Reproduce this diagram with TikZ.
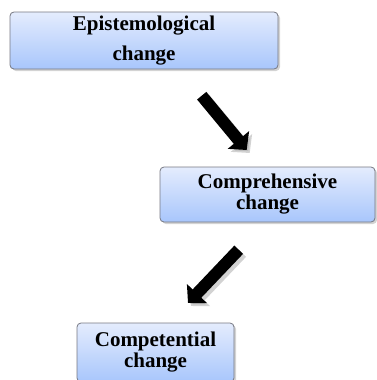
\documentclass[tikz,border=0pt]{standalone}
\usepackage{fontspec}
\setmainfont{Liberation Serif}
\usetikzlibrary{arrows.meta,shadows}
\definecolor{boxtop}{RGB}{228,236,253}
\definecolor{boxbot}{RGB}{168,198,252}
\definecolor{boxline}{RGB}{118,120,130}
\begin{document}
\begin{tikzpicture}[x=1pt, y=-1pt,
  box/.style={draw=boxline, line width=.8pt, rounded corners=4pt, top color=boxtop, bottom color=boxbot,
    drop shadow={shadow xshift=2pt, shadow yshift=-2pt, opacity=.35},
    inner sep=0pt, align=center, font=\fontsize{21}{21}\selectfont\bfseries},
  bigarrow/.style={line width=12pt, -{Triangle[length=13pt,width=27pt]}},
  arrowshade/.style={bigarrow, draw=black!35, opacity=.5}]
\useasboundingbox (0,0) rectangle (377,380);

\node[box, minimum width=268pt, minimum height=57pt] (epi) at (144,40.5) {Epistemological\\[9pt]change};
\node[box, minimum width=215pt, minimum height=55pt] (comp) at (267.5,194.5) {Comprehensive\\change};
\node[box, minimum width=157pt, minimum height=59pt] (compet) at (155.5,352.5) {Competential\\change};

% arrows between the boxes
\coordinate (a1) at (201.7,95.7);  \coordinate (a1e) at (246.7,150);
\coordinate (a2) at (238.7,249.7); \coordinate (a2e) at (188,303);
\draw[arrowshade] ([shift={(3,3)}]a1)--([shift={(3,3)}]a1e);
\draw[arrowshade] ([shift={(3,3)}]a2)--([shift={(3,3)}]a2e);
\draw[bigarrow] (a1)--(a1e);
\draw[bigarrow] (a2)--(a2e);
\end{tikzpicture}
\end{document}
